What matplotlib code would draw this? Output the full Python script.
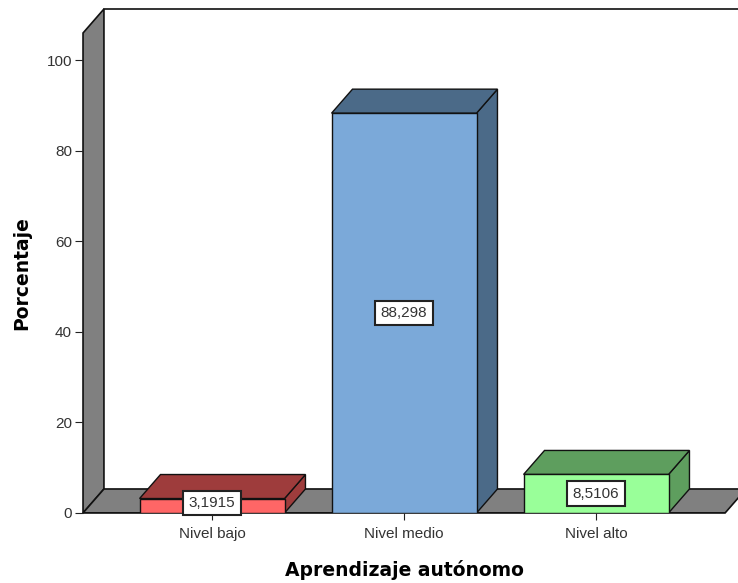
import matplotlib.pyplot as plt
from matplotlib.patches import Polygon

# datos
categorias = ['Nivel bajo', 'Nivel medio', 'Nivel alto']
porcentajes = [3.1915, 88.298, 8.5106]
etiquetas = ['3,1915', '88,298', '8,5106']
col_frente = ['#FF6666', '#7BA9D9', '#99FF99']
col_oscuro = ['#9E3C3C', '#4B6A88', '#5E9E5E']
GRIS = '#808080'

plt.rcParams['font.family'] = ['Liberation Sans', 'DejaVu Sans']

fig = plt.figure(figsize=(7.38, 5.83), dpi=100)
ax = fig.add_axes([0.1125, 0.1201, 0.870, 0.8233])

x0, x1 = -0.672, 2.672
ytop = 106
dx, dy = 0.109, 5.3   # profundidad 3D
w = 0.755

ax.set_xlim(x0, x1)
ax.set_ylim(0, ytop)

# pared izquierda, suelo y fondo
ax.add_patch(Polygon([(x0, 0), (x0 + dx, dy), (x0 + dx, ytop + dy), (x0, ytop)],
                     closed=True, fc=GRIS, ec='#111111', lw=1.2, clip_on=False, zorder=1))
ax.add_patch(Polygon([(x0, 0), (x1, 0), (x1 + dx, dy), (x0 + dx, dy)],
                     closed=True, fc=GRIS, ec='#111111', lw=1.2, clip_on=False, zorder=1))
ax.plot([x0 + dx, x1 + dx + 0.3], [ytop + dy, ytop + dy], color='#111111', lw=1.2,
        clip_on=False, zorder=1)

# barras 3D
for i, v in enumerate(porcentajes):
    l, r = i - w / 2, i + w / 2
    ax.add_patch(Polygon([(r, 0), (r + dx, dy), (r + dx, v + dy), (r, v)],
                         closed=True, fc=col_oscuro[i], ec='#111111', lw=1, zorder=3))
    ax.add_patch(Polygon([(l, v), (r, v), (r + dx, v + dy), (l + dx, v + dy)],
                         closed=True, fc=col_oscuro[i], ec='#111111', lw=1, zorder=3))
    ax.bar(i, v, width=w, color=col_frente[i], edgecolor='#111111', lw=1, zorder=4)
    ax.text(i, max(v / 2, 2.2), etiquetas[i], ha='center', va='center', fontsize=11,
            color='#333333', zorder=6,
            bbox=dict(boxstyle='square,pad=0.35', fc='white', ec='#222222', lw=1.5))

for s in ax.spines.values():
    s.set_visible(False)
ax.axhline(0, color='#111111', lw=1.2, zorder=2)

ax.set_xticks(range(len(categorias)))
ax.set_xticklabels(categorias, fontsize=11, color='#333333')
ax.set_yticks([0, 20, 40, 60, 80, 100])
ax.tick_params(axis='x', length=5, pad=5, color='#222222')
ax.tick_params(axis='y', length=6, pad=2, labelsize=11, labelcolor='#333333', color='#222222')

ax.set_xlabel('Aprendizaje autónomo', fontsize=13.5, fontweight='bold',
              family='DejaVu Sans', labelpad=14)
ax.set_ylabel('Porcentaje', fontsize=13.5, fontweight='bold',
              family='DejaVu Sans', labelpad=11)

fig.savefig('out.png', dpi=100)
